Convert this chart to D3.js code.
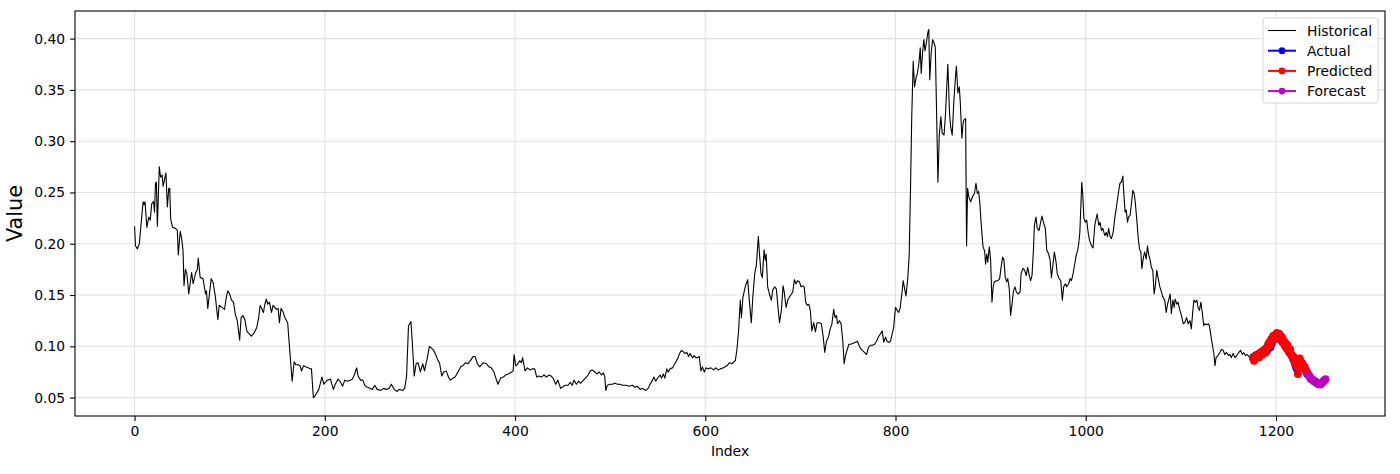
<!DOCTYPE html>
<html>
<head>
<meta charset="utf-8">
<script src="https://cdn.jsdelivr.net/npm/d3@7"></script>
<style>
    body { margin: 0; background: #fff; }
    svg { display: block; font-family: "DejaVu Sans", sans-serif; }
</style>
</head>
<body>
<svg width="1400" height="474"></svg>
<script>
// historical series, [index, value]
let historical = [
    [0,0.217],[1,0.198],[3,0.195],[5,0.200],[9,0.241],[10,0.238],[11,0.241],[13,0.216],[15,0.226],[16.5,0.223],
    [18,0.239],[20,0.241],[21,0.231],[22,0.259],[23,0.260],[24,0.217],[26,0.275],[27.4,0.265],[29,0.267],[30,0.256],
    [33,0.269],[34.5,0.236],[36,0.254],[37,0.254],[38,0.224],[40,0.216],[43,0.215],[45,0.213],[46,0.189],[48,0.212],
    [49.6,0.205],[51,0.193],[52,0.159],[53.5,0.175],[55,0.171],[57,0.151],[60,0.172],[61.6,0.161],[64,0.171],[66,0.175],
    [67,0.186],[69,0.167],[72,0.166],[74.6,0.151],[75.6,0.154],[77,0.137],[80.6,0.166],[82.7,0.162],[85,0.148],[87.6,0.126],
    [89,0.140],[92,0.138],[94.6,0.136],[96.7,0.149],[98,0.154],[100,0.151],[102,0.145],[104,0.143],[106,0.131],[108,0.125],
    [110.5,0.106],[112,0.128],[114,0.130],[116,0.126],[118,0.115],[119.6,0.113],[122.8,0.110],[125.6,0.113],[128.4,0.118],[130.5,0.128],
    [132,0.140],[133,0.138],[135.5,0.133],[137,0.141],[138.6,0.146],[140,0.141],[141.8,0.143],[144,0.133],[145.6,0.140],[147.4,0.138],
    [149,0.136],[151,0.137],[152.3,0.123],[154,0.137],[156,0.134],[158,0.128],[161,0.123],[162.5,0.104],[165.7,0.066],[167.8,0.085],
    [169.6,0.082],[172,0.082],[174,0.081],[175.5,0.076],[177.7,0.081],[180,0.080],[182.6,0.079],[184.7,0.078],[186,0.078],
    [188,0.050],[190,0.052],[193.7,0.058],[197,0.070],[199,0.063],[202.5,0.067],[206,0.068],[209,0.058],[211,0.063],[214,0.068],
    [216.6,0.065],[218.7,0.061],[221,0.067],[223.6,0.066],[226.5,0.067],[229,0.068],[231,0.072],[233.5,0.079],[235,0.071],[237.7,0.067],
    [240,0.067],[242,0.062],[244.8,0.060],[247.6,0.059],[250,0.058],[252.6,0.062],[255,0.058],[259,0.057],[261.7,0.059],[265,0.058],
    [267.7,0.059],[270,0.063],[273,0.058],[276,0.056],[278,0.058],[282,0.057],[284,0.059],[286,0.071],[288,0.120],[290.6,0.124],
    [292,0.104],[294,0.071],[296,0.083],[298,0.084],[300.5,0.075],[303,0.083],[304.8,0.076],[307.6,0.088],[310,0.100],[312.5,0.098],
    [314.6,0.096],[317,0.091],[319,0.086],[320.6,0.084],[323,0.071],[325,0.075],[327.7,0.076],[330,0.070],[332,0.067],[334.7,0.069],
    [337,0.070],[340,0.075],[343,0.080],[345,0.081],[348,0.084],[350.6,0.083],[353,0.086],[356,0.090],[358,0.090],[360.5,0.083],
    [363,0.080],[366.5,0.084],[370,0.083],[372.5,0.080],[375,0.079],[377.8,0.075],[379.5,0.070],[382,0.063],[384.8,0.069],[387.7,0.070],
    [390,0.072],[393,0.073],[396.5,0.075],[398,0.076],
    [399,0.092],[400.7,0.081],[403,0.083],[405,0.086],[406.7,0.084],[408,0.089],[410.5,0.076],[413,0.079],[415.8,0.077],[418,0.078],
    [420.7,0.078],[422.8,0.070],[425,0.071],[427.7,0.070],[430.5,0.072],[433,0.070],[435.8,0.072],[438,0.071],[440,0.069],[442.8,0.063],
    [445,0.067],[448,0.059],[451,0.061],[453,0.062],[455.8,0.062],[458,0.065],[460,0.062],[462,0.067],[464.6,0.063],[466.7,0.066],
    [469,0.064],[472,0.067],[474,0.069],[476.8,0.072],[479,0.076],[481,0.077],[484,0.075],[486,0.073],[488.4,0.075],[490.9,0.072],
    [493,0.074],[494.4,0.070],[495.4,0.057],[497,0.062],[500,0.063],[502.5,0.063],[505,0.064],[507.7,0.063],[510.5,0.063],[513,0.062],
    [516.5,0.062],[520,0.061],[523.5,0.062],[526,0.060],[528.8,0.061],[531.6,0.058],[534,0.059],[537.5,0.057],[540,0.059],[542,0.063],
    [544.6,0.067],[546,0.070],[548,0.066],[550.5,0.070],[552.6,0.072],[554,0.069],[556,0.073],[557.5,0.069],[559.6,0.078],[561,0.075],
    [563,0.078],[565.6,0.079],[568,0.083],[571,0.088],[573,0.093],[575,0.096],[576.5,0.095],[578.6,0.093],[580.7,0.094],[582.5,0.090],
    [584,0.093],[586.7,0.089],[588.4,0.091],[590,0.089],[592,0.089],[593.7,0.090],[595.4,0.076],[597,0.080],[599,0.075],[600.7,0.079],
    [603,0.078],[606,0.079],[608.8,0.077],[611,0.079],[613.7,0.077],
    [615.8,0.078],[619,0.079],[622.8,0.081],[625.6,0.084],[628,0.083],[631.6,0.086],[633.3,0.097],[635,0.115],[636.8,0.145],[638,0.128],
    [639.6,0.148],[642,0.158],[643,0.161],[644.6,0.165],[646,0.148],[648.4,0.123],[650,0.148],[652,0.171],[653.7,0.179],[655.8,0.207],
    [657,0.190],[658.6,0.171],[660,0.167],[661.8,0.194],[663,0.184],[664,0.190],[665.6,0.158],[667.7,0.150],[669.5,0.145],[671,0.155],
    [673,0.158],[674.7,0.156],[676.5,0.138],[678,0.123],[680,0.135],[681.8,0.159],[683,0.153],[685,0.138],[686.7,0.145],[688.4,0.148],
    [690,0.150],[692,0.153],[693.7,0.165],[695.4,0.161],[697,0.164],[699,0.163],[700.7,0.158],[702.8,0.159],[704,0.158],[705.6,0.143],
    [707,0.140],[708.8,0.141],[710.5,0.135],[712,0.115],[714,0.123],[715.8,0.114],[717.5,0.123],[720,0.123],[722,0.122],[723.9,0.110],
    [725.6,0.094],[727.4,0.105],[729.5,0.109],[731.6,0.118],[733,0.121],[735,0.136],[736.5,0.128],[738,0.130],[739,0.122],[741,0.125],
    [742.8,0.122],[744.6,0.105],[746,0.083],[747.7,0.092],[749,0.096],[751,0.102],[753,0.102],[755.4,0.103],[758,0.104],[760,0.105],
    [762.5,0.099],[765,0.096],[767.4,0.094],[769.5,0.092],[771.6,0.099],[773.7,0.101],[775.8,0.101],[778,0.102],[780,0.105],[782,0.109],
    [784,0.112],[786,0.115],[787.7,0.104],[789.5,0.109],[791,0.105],[793,0.104],[794.7,0.105],[796.5,0.112],[798,0.118],[800,0.138],
    [801.8,0.135],[803.5,0.133],[805,0.138],[807,0.154],[808,0.164],[810,0.154],[811,0.149],[813,0.167],[814.4,0.190],[815.8,0.255],
    [817,0.321],[818.6,0.378],[820,0.353],[821.8,0.363],[822.8,0.365],[824.6,0.376],[826,0.391],[827,0.366],[828.4,0.386],[829.8,0.399],
    [831,0.388],[832.6,0.397],[834,0.406],[835,0.409],[836,0.360],[837.5,0.386],[839,0.399],[840.4,0.396],[841.8,0.392],[843,0.337],
    [844.6,0.260],[846,0.306],[847.7,0.324],[849,0.308],[851,0.306],[852.6,0.327],[853.7,0.350],[855,0.375],[856.8,0.327],[858,0.314],
    [859.6,0.306],[861.4,0.340],[863,0.362],[864,0.373],[865.6,0.347],[867,0.353],[868,0.340],[869.8,0.303],[871,0.317],[872,0.321],
    [873.7,0.322],[874.7,0.198],[875.8,0.254],[877,0.246],[879,0.241],
    [881.4,0.247],[883,0.249],[884.6,0.259],[886,0.249],[887.4,0.251],[888.8,0.238],[890,0.220],[892,0.197],[893.7,0.193],[894.7,0.180],
    [896,0.190],[897,0.182],[898.6,0.197],[900,0.184],[901.4,0.143],[902.8,0.159],[904,0.163],[906,0.164],[907.7,0.164],[909.5,0.166],
    [911,0.177],[912.6,0.187],[914,0.184],[915.4,0.167],[916.8,0.163],[918,0.166],[919.6,0.156],[921,0.130],[922.5,0.141],[924,0.154],
    [925.6,0.158],[927,0.153],[928.8,0.151],[931,0.153],[932,0.171],[934,0.176],[935.8,0.174],[937.5,0.169],[939,0.177],[940.7,0.169],
    [942,0.164],[943.5,0.169],[945,0.194],[946,0.218],[947.7,0.226],[949,0.215],[950.9,0.213],[952.6,0.221],[954,0.227],[955.8,0.220],
    [957.5,0.215],[959,0.194],[961,0.190],[962.5,0.184],[963.9,0.167],[965.6,0.180],[967,0.192],[968.8,0.182],[970,0.171],[972,0.166],
    [973.7,0.164],[975.4,0.145],[976.8,0.158],[978.6,0.161],[980,0.158],[982,0.161],[983.5,0.166],[985,0.164],[986.7,0.171],[988.4,0.180],
    [990,0.189],[991.6,0.194],[992.6,0.200],[993.7,0.210],[994.7,0.233],[995.8,0.260],[996.8,0.249],[998,0.225],[999.6,0.221],[1001,0.223],
    [1002.5,0.211],[1004,0.203],[1006,0.198],[1007.7,0.196],[1009.5,0.218],[1011,0.225],[1012,0.229],[1013.7,0.218],[1015,0.221],[1016.5,0.213],
    [1018,0.215],[1020,0.208],[1021.4,0.211],[1022.8,0.207],[1024,0.215],[1025.6,0.207],[1027,0.205],[1028.8,0.211],[1030.5,0.225],[1032,0.234],
    [1033,0.241],[1034.7,0.252],[1036,0.259],[1037.5,0.260],[1039,0.266],[1040,0.249],[1041.4,0.231],[1042.5,0.233],[1043.9,0.221],[1045,0.226],
    [1046.7,0.228],[1048,0.239],[1049.5,0.252],[1050.9,0.249],[1052,0.241],[1053.7,0.223],[1055,0.207],[1056.5,0.195],[1057.9,0.192],[1059,0.176],
    [1060.7,0.187],[1062,0.192],[1063.5,0.185],[1064.9,0.198],[1066,0.190],[1067.7,0.184],[1069,0.177],[1070.5,0.174],[1071.9,0.151],[1073,0.158],
    [1074.7,0.174],[1076,0.167],[1077.9,0.158],[1079.6,0.153],[1081,0.148],[1083,0.145],[1084.6,0.133],[1086,0.141],[1087.4,0.146],[1088.8,0.151],
    [1090,0.132],[1091.6,0.145],[1093,0.138],[1094,0.146],[1095.8,0.141],[1097,0.143],[1099,0.135],[1100.7,0.130],[1102.5,0.122],[1104,0.123],
    [1106,0.128],[1107.7,0.122],[1109.5,0.125],[1111,0.117],[1112.6,0.135],[1113.7,0.145],[1115.4,0.143],[1116.8,0.145],[1118,0.138],[1119.6,0.135],
    [1121,0.143],[1122.5,0.133],[1124,0.120],[1125,0.122],[1127,0.121],[1128.8,0.122],[1130,0.120],
    [1131,0.114],[1133,0.102],[1134.7,0.093],[1135.8,0.081],[1137,0.089],[1139,0.091],[1141,0.094],[1142.8,0.097],[1144.6,0.096],[1146,0.092],
    [1148,0.094],[1150,0.091],[1151.6,0.092],[1153,0.089],[1155,0.093],[1156.8,0.089],[1158.6,0.091],[1161,0.094],[1162.8,0.096],[1164.6,0.092],
    [1166,0.094],[1168,0.091],[1169.8,0.092],[1171.6,0.090],[1173,0.089],[1174.4,0.088]
];

// test window starts at index 1176, one value per index
let testStart = 1176;
let actual = [
    0.089, 0.088, 0.090, 0.091, 0.090, 0.092, 0.091, 0.093, 0.092, 0.094,
    0.093, 0.095, 0.094, 0.096, 0.095, 0.097, 0.098, 0.100, 0.099, 0.102,
    0.104, 0.106, 0.108, 0.109, 0.110, 0.111, 0.110, 0.112, 0.111, 0.109,
    0.108, 0.106, 0.105, 0.103, 0.102, 0.100, 0.099, 0.097, 0.096, 0.094,
    0.092, 0.090, 0.088, 0.086, 0.083, 0.080, 0.078, 0.079, 0.082, 0.085,
    0.084, 0.083, 0.081, 0.080, 0.078, 0.077, 0.075, 0.073
];
let predicted = [
    0.088, 0.086, 0.089, 0.091, 0.090, 0.092, 0.089, 0.093, 0.092, 0.095,
    0.092, 0.094, 0.097, 0.094, 0.098, 0.100, 0.102, 0.104, 0.101, 0.107,
    0.105, 0.110, 0.108, 0.111, 0.109, 0.113, 0.110, 0.112, 0.108, 0.106,
    0.109, 0.104, 0.106, 0.101, 0.103, 0.098, 0.101, 0.096, 0.094, 0.097,
    0.092, 0.091, 0.088, 0.089, 0.084, 0.082, 0.080, 0.073, 0.084, 0.088,
    0.085, 0.082, 0.083, 0.079, 0.080, 0.077, 0.076, 0.074
];

let forecastStart = 1234;
let forecast = [
    0.072, 0.071, 0.069, 0.068, 0.068, 0.067, 0.066, 0.066, 0.065, 0.064,
    0.064, 0.063, 0.063, 0.063, 0.064, 0.065, 0.066, 0.067, 0.068
];

let xTicks = [0, 200, 400, 600, 800, 1000, 1200];
let yTicks = [0.05, 0.10, 0.15, 0.20, 0.25, 0.30, 0.35, 0.40];

let legendItems = [
    {label: "Historical", color: "#000000", marker: false},
    {label: "Actual", color: "#0000ff", marker: true},
    {label: "Predicted", color: "#ff0000", marker: true},
    {label: "Forecast", color: "#bf00bf", marker: true}
];

// turn the per-index series into points
let toPoints = function (start, values) {
    return values.map(function (v, i) { return [start + i, v]; });
};
let actualPts = toPoints(testStart, actual),
    predictedPts = toPoints(testStart, predicted),
    forecastPts = toPoints(forecastStart, forecast);

let svg = d3.select("svg"),
    margin = {top: 11, right: 15, bottom: 58, left: 75},
    width = +svg.attr("width") - margin.left - margin.right,
    height = +svg.attr("height") - margin.top - margin.bottom;

let allPts = historical.concat(actualPts, predictedPts, forecastPts);
let xExt = d3.extent(allPts, function (d) { return d[0]; }),
    yExt = d3.extent(allPts, function (d) { return d[1]; });
let xPad = (xExt[1] - xExt[0]) * 0.05,
    yPad = (yExt[1] - yExt[0]) * 0.05;

let x = d3.scaleLinear().domain([xExt[0] - xPad, xExt[1] + xPad]).range([0, width]),
    y = d3.scaleLinear().domain([yExt[0] - yPad, yExt[1] + yPad]).range([height, 0]);

let g = svg.append("g")
    .attr("transform", "translate(" + margin.left + "," + margin.top + ")");

// grid
g.append("g").selectAll("line")
    .data(xTicks)
    .enter().append("line")
    .attr("x1", function (d) { return x(d); })
    .attr("x2", function (d) { return x(d); })
    .attr("y1", 0).attr("y2", height)
    .attr("stroke", "#e2e2e2").attr("stroke-width", 1.1);

g.append("g").selectAll("line")
    .data(yTicks)
    .enter().append("line")
    .attr("y1", function (d) { return y(d); })
    .attr("y2", function (d) { return y(d); })
    .attr("x1", 0).attr("x2", width)
    .attr("stroke", "#e2e2e2").attr("stroke-width", 1.1);

let line = d3.line()
    .x(function (d) { return x(d[0]); })
    .y(function (d) { return y(d[1]); });

g.append("path")
    .datum(historical)
    .attr("fill", "none")
    .attr("stroke", "#000")
    .attr("stroke-width", 1.1)
    .attr("stroke-linejoin", "round")
    .attr("d", line);

let drawSeries = function (pts, color) {
    g.append("path")
        .datum(pts)
        .attr("fill", "none")
        .attr("stroke", color)
        .attr("stroke-width", 2)
        .attr("d", line);
    g.append("g").selectAll("circle")
        .data(pts)
        .enter().append("circle")
        .attr("cx", function (d) { return x(d[0]); })
        .attr("cy", function (d) { return y(d[1]); })
        .attr("r", 4)
        .attr("fill", color);
};

drawSeries(actualPts, "#0000ff");
drawSeries(predictedPts, "#ff0000");
drawSeries(forecastPts, "#bf00bf");

// axes
let xAxis = g.append("g")
    .attr("transform", "translate(0," + height + ")")
    .call(d3.axisBottom(x).tickValues(xTicks).tickFormat(d3.format("d")).tickSizeOuter(0).tickSize(4.9).tickPadding(4.9));

let yAxis = g.append("g")
    .call(d3.axisLeft(y).tickValues(yTicks).tickFormat(d3.format(".2f")).tickSizeOuter(0).tickSize(4.9).tickPadding(4.9));

[xAxis, yAxis].forEach(function (a) {
    a.select(".domain").remove();
    a.selectAll("line").attr("stroke", "#000").attr("stroke-width", 1.1);
    a.selectAll("text")
        .attr("fill", "#000")
        .style("font-family", "DejaVu Sans")
        .style("font-size", "13.9px");
});

// frame
g.append("rect")
    .attr("width", width).attr("height", height)
    .attr("fill", "none")
    .attr("stroke", "#000")
    .attr("stroke-width", 1.1);

// axis labels
svg.append("text")
    .attr("x", margin.left + width / 2)
    .attr("y", 456)
    .attr("text-anchor", "middle")
    .style("font-size", "13.9px")
    .text("Index");

svg.append("text")
    .attr("transform", "translate(22," + (margin.top + height / 2) + ") rotate(-90)")
    .attr("text-anchor", "middle")
    .style("font-size", "20.8px")
    .text("Value");

// legend
let lg = svg.append("g")
    .attr("transform", "translate(1263,18)");

lg.append("rect")
    .attr("width", 115).attr("height", 85)
    .attr("rx", 3)
    .attr("fill", "#fff").attr("fill-opacity", 0.8)
    .attr("stroke", "#d6d6d6");

let rows = lg.selectAll(".row")
    .data(legendItems)
    .enter().append("g")
    .attr("class", "row")
    .attr("transform", function (d, i) { return "translate(0," + (12.5 + i * 20.2) + ")"; });

rows.append("line")
    .attr("x1", 5).attr("x2", 33)
    .attr("stroke", function (d) { return d.color; })
    .attr("stroke-width", function (d) { return d.marker ? 2 : 1.1; });

rows.filter(function (d) { return d.marker; })
    .append("circle")
    .attr("cx", 19).attr("r", 3.4)
    .attr("fill", function (d) { return d.color; });

rows.append("text")
    .attr("x", 44).attr("y", 5)
    .style("font-size", "13.9px")
    .text(function (d) { return d.label; });
</script>
</body>
</html>
